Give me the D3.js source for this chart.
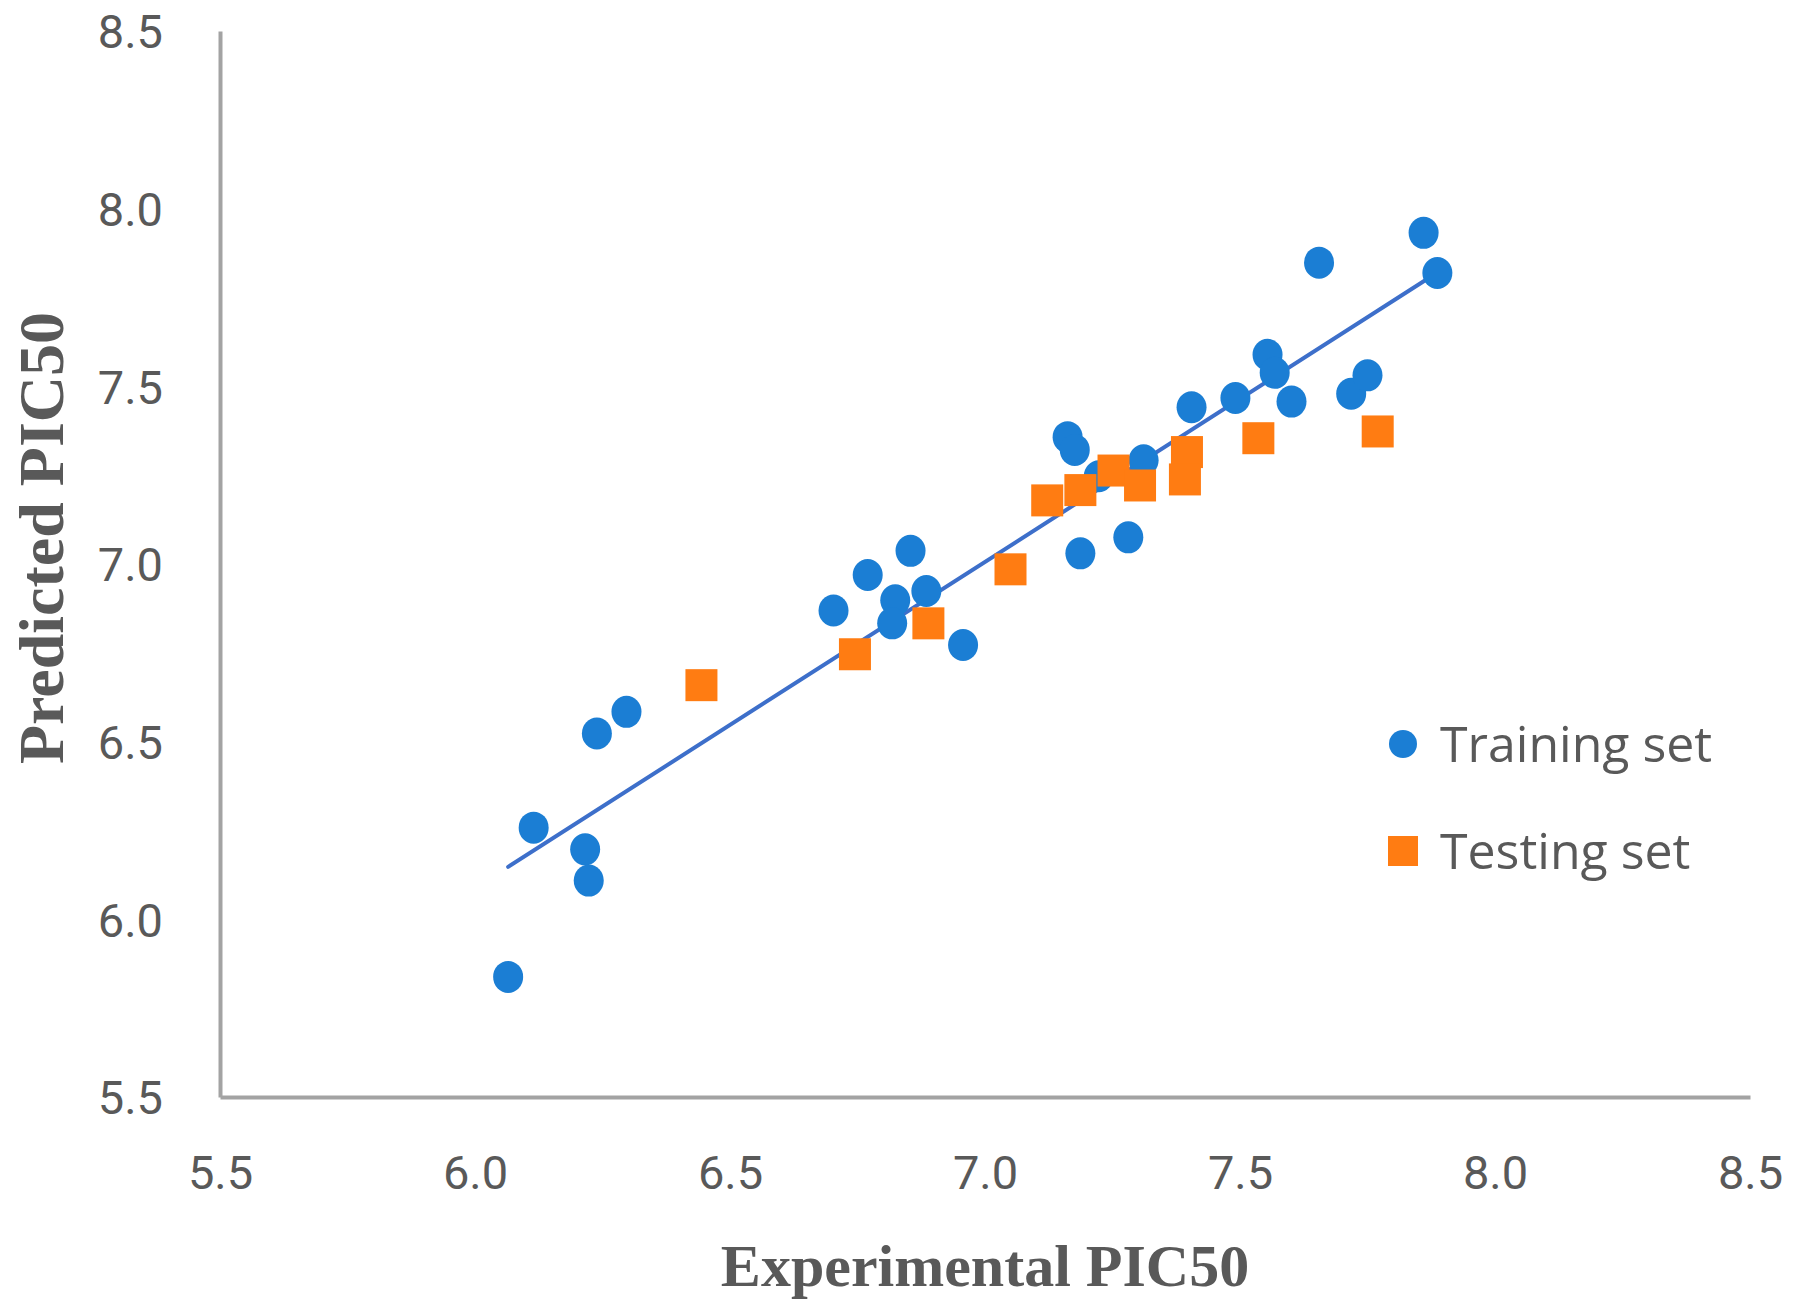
<!DOCTYPE html>
<html>
<head>
<meta charset="utf-8">
<script src="https://cdn.jsdelivr.net/npm/d3@7"></script>
<style>
  html, body { margin: 0; padding: 0; background: #ffffff; }
  svg { display: block; }
</style>
</head>
<body>
<svg id="chart" width="1800" height="1312"></svg>
<script>
// ---- Data ----
const trainingX = [6.065, 6.115, 6.216, 6.223, 6.239, 6.297, 6.703, 6.770, 6.854, 6.824,
                   6.818, 6.885, 6.957, 7.162, 7.176, 7.187, 7.281, 7.311, 7.223, 7.405,
                   7.491, 7.554, 7.568, 7.601, 7.655, 7.718, 7.750, 7.860, 7.887];
const trainingY = [5.838, 6.258, 6.197, 6.109, 6.523, 6.584, 6.869, 6.969, 7.037, 6.898,
                   6.833, 6.924, 6.772, 7.357, 7.321, 7.030, 7.075, 7.292, 7.247, 7.441,
                   7.467, 7.589, 7.538, 7.457, 7.848, 7.479, 7.531, 7.932, 7.819];
const testingX = [6.444, 6.745, 6.889, 7.050, 7.122, 7.187, 7.252, 7.304, 7.396, 7.392, 7.536, 7.770];
const testingY = [6.659, 6.746, 6.833, 6.985, 7.179, 7.208, 7.263, 7.221, 7.315, 7.238, 7.354, 7.373];
// Linear trendline of the training set (slope, intercept)
const trendSlope = 0.918;
const trendIntercept = 0.580;
const xTicks = [5.5, 6.0, 6.5, 7.0, 7.5, 8.0, 8.5];
const yTicks = [5.5, 6.0, 6.5, 7.0, 7.5, 8.0, 8.5];
const seriesNames = ["Training set", "Testing set"];
const xTitle = "Experimental PIC50";
const yTitle = "Predicted PIC50";

// ---- Layout ----
(function () {
const svg = d3.select("#chart");
const mLeft = 220, mRight = 1750, mTop = 31, mBottom = 1097;
const blue = "#1b7ed4", orange = "#ff7c12", lineColor = "#3d6fca";
const axisColor = "#a3a3a3", textColor = "#595959";

const x = d3.scaleLinear().domain([5.5, 8.5]).range([mLeft, mRight]);
const y = d3.scaleLinear().domain([5.5, 8.5]).range([mBottom, mTop]);

svg.append("rect").attr("width", 1800).attr("height", 1312).attr("fill", "#fff");

// Axes
const xAxis = d3.axisBottom(x).tickValues(xTicks).tickFormat(d3.format(".1f")).tickSize(0);
const yAxis = d3.axisLeft(y).tickValues(yTicks).tickFormat(d3.format(".1f")).tickSize(0).tickPadding(57);

const gx = svg.append("g").attr("transform", `translate(0,${mBottom})`).call(xAxis);
const gy = svg.append("g").attr("transform", `translate(${mLeft},0)`).call(yAxis);
[gx, gy].forEach(g => {
  g.select(".domain").attr("stroke", axisColor).attr("stroke-width", 4);
  g.selectAll("text")
    .attr("font-family", "Roboto, 'Open Sans', sans-serif")
    .attr("font-size", 47)
    .attr("fill", textColor);
});
gx.selectAll("text").attr("y", 75).attr("dy", "0.36em");
gy.selectAll("text").attr("dy", "0.36em");

// Trendline (training set, spans min..max of training x)
const xMin = d3.min(trainingX), xMax = d3.max(trainingX);
svg.append("line")
  .attr("x1", x(xMin)).attr("y1", y(trendSlope * xMin + trendIntercept))
  .attr("x2", x(xMax)).attr("y2", y(trendSlope * xMax + trendIntercept))
  .attr("stroke", lineColor).attr("stroke-width", 4).attr("stroke-linecap", "round");

const train = trainingX.map((v, i) => ({ x: v, y: trainingY[i] }));
const test = testingX.map((v, i) => ({ x: v, y: testingY[i] }));

// Training points
svg.append("g").selectAll("ellipse").data(train).join("ellipse")
  .attr("cx", d => x(d.x)).attr("cy", d => y(d.y))
  .attr("rx", 15).attr("ry", 16)
  .attr("fill", blue);

// Testing points
const sq = 32;
svg.append("g").selectAll("rect").data(test).join("rect")
  .attr("x", d => x(d.x) - sq / 2).attr("y", d => y(d.y) - sq / 2)
  .attr("width", sq).attr("height", sq)
  .attr("fill", orange);

// Axis titles
svg.append("text")
  .attr("x", (mLeft + mRight) / 2).attr("y", 1286)
  .attr("text-anchor", "middle")
  .attr("font-family", "'Liberation Serif', 'Times New Roman', serif")
  .attr("font-weight", "bold").attr("font-size", 60)
  .attr("fill", textColor)
  .text(xTitle);

svg.append("text")
  .attr("transform", "translate(63,538) rotate(-90)")
  .attr("text-anchor", "middle")
  .attr("font-family", "'Liberation Serif', 'Times New Roman', serif")
  .attr("font-weight", "bold").attr("font-size", 64)
  .attr("fill", textColor)
  .text(yTitle);

// Legend
const legend = svg.append("g");
const legY = [744, 851];
legend.append("circle").attr("cx", 1403).attr("cy", legY[0]).attr("r", 14).attr("fill", blue);
legend.append("rect").attr("x", 1403 - 15).attr("y", legY[1] - 15).attr("width", 30).attr("height", 30).attr("fill", orange);
legend.selectAll("text").data(seriesNames).join("text")
  .attr("x", 1440).attr("y", (d, i) => legY[i])
  .attr("dy", "0.36em")
  .attr("font-family", "'Open Sans', sans-serif")
  .attr("font-size", 50)
  .attr("fill", textColor)
  .text(d => d);
})();
</script>
</body>
</html>
